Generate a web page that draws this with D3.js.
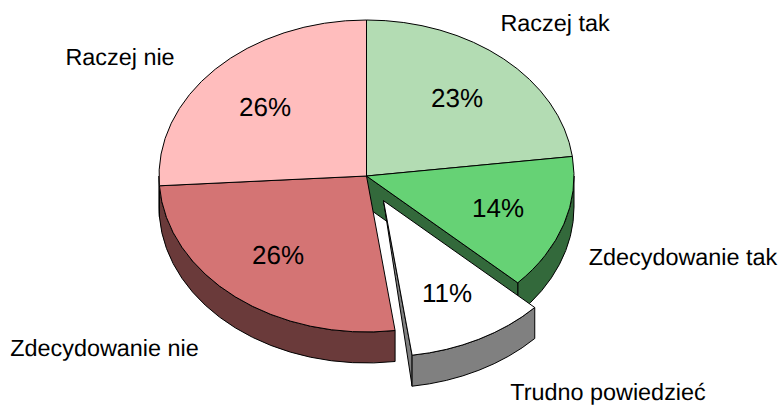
<!DOCTYPE html>
<html>
<head>
<meta charset="utf-8">
<script src="https://cdn.jsdelivr.net/npm/d3@7"></script>
<style>
  html, body { margin: 0; padding: 0; background: #fff; }
  svg { display: block; }
  text { font-family: "Liberation Sans", Arial, sans-serif; fill: #000; text-rendering: geometricPrecision; }
</style>
</head>
<body>
<svg width="779" height="405"></svg>
<script>
var categories = ["Raczej tak", "Zdecydowanie tak", "Trudno powiedzieć", "Zdecydowanie nie", "Raczej nie"];
var values = [23, 14, 10.8, 26.2, 26];
var colors = ["#b3dcb3", "#66d275", "#ffffff", "#d47474", "#ffbdbd"];
var exploded = ["Trudno powiedzieć"];

var svg = d3.select("svg");

var cx = 366.5, cy = 176,
    rx = 207.5, ry = 156,
    k = ry / rx,
    depth = 31,
    explode = 37;

// label placement, same order as categories
var nameXY = [[555, 31], [683, 265], [608, 400], [104.5, 356], [120, 65]];
var pctXY = [[457, 98], [498, 208], [447, 293], [278, 255], [265, 107]];

var color = d3.scaleOrdinal().domain(categories).range(colors);

function wallColor(name) {
  var c = d3.rgb(color(name));
  return d3.rgb(c.r / 2, c.g / 2, c.b / 2).formatHex();
}

var slices = d3.pie().sort(null).value(function(d, i) { return values[i]; })(categories);
var arc = d3.arc().innerRadius(0).outerRadius(rx);

// angle 0 is at the top and runs clockwise, as in d3.arc
function px(a, r) { return r * Math.sin(a); }
function py(a, r) { return -r * Math.cos(a); }

function offset(d) {
  if (exploded.indexOf(d.data) < 0) return [0, 0];
  var mid = (d.startAngle + d.endAngle) / 2;
  return [px(mid, explode), py(mid, explode)];
}

// rim of a slice, only the part that faces the viewer
function rimPath(d) {
  var a0 = Math.max(d.startAngle, Math.PI / 2),
      a1 = Math.min(d.endAngle, Math.PI * 1.5),
      h = depth / k;
  if (a1 <= a0) return null;
  var p = d3.path();
  p.moveTo(px(a0, rx), py(a0, rx));
  p.arc(0, 0, rx, a0 - Math.PI / 2, a1 - Math.PI / 2, false);
  p.lineTo(px(a1, rx), py(a1, rx) + h);
  p.arc(0, h, rx, a1 - Math.PI / 2, a0 - Math.PI / 2, true);
  p.closePath();
  return p.toString();
}

// cut side along the end angle of a slice
function cutPath(d) {
  var a = d.endAngle, h = depth / k;
  return "M0,0L" + px(a, rx) + "," + py(a, rx) +
    "L" + px(a, rx) + "," + (py(a, rx) + h) + "L0," + h + "Z";
}

// exploded slice shows its end-side wall only as a thin wedge
function wedgePath(d) {
  var a = d.endAngle, h = depth / k;
  return "M0,0L" + px(a, rx) + "," + py(a, rx) +
    "L" + px(a, rx) + "," + (py(a, rx) + h) + "Z";
}

var pie = svg.append("g")
    .attr("transform", "translate(" + cx + "," + cy + ") scale(1," + k + ")");

function shape(path, fill, d) {
  var o = offset(d);
  pie.append("path")
      .attr("d", path)
      .attr("transform", "translate(" + o[0] + "," + o[1] + ")")
      .attr("fill", fill)
      .attr("stroke", "#000")
      .attr("stroke-width", 1)
      .attr("stroke-linejoin", "round")
      .attr("vector-effect", "non-scaling-stroke");
}

var still = slices.filter(function(d) { return exploded.indexOf(d.data) < 0; }),
    moved = slices.filter(function(d) { return exploded.indexOf(d.data) >= 0; });

still.forEach(function(d) {
  var rim = rimPath(d);
  if (rim) shape(rim, wallColor(d.data), d);
});

// the slice in front of the gap shows its cut side
shape(cutPath(slices[1]), wallColor(slices[1].data), slices[1]);

moved.forEach(function(d) {
  shape(wedgePath(d), wallColor(d.data), d);
  shape(rimPath(d), wallColor(d.data), d);
  shape(arc(d), color(d.data), d);
});

still.forEach(function(d) {
  shape(arc(d), color(d.data), d);
});

svg.selectAll(".name")
  .data(categories)
  .enter().append("text")
    .attr("class", "name")
    .attr("x", function(d, i) { return nameXY[i][0]; })
    .attr("y", function(d, i) { return nameXY[i][1]; })
    .attr("text-anchor", "middle")
    .style("font-size", "23.4px")
    .text(function(d) { return d; });

svg.selectAll(".pct")
  .data(values)
  .enter().append("text")
    .attr("class", "pct")
    .attr("x", function(d, i) { return pctXY[i][0]; })
    .attr("y", function(d, i) { return pctXY[i][1]; })
    .attr("dy", "0.35em")
    .attr("text-anchor", "middle")
    .style("font-size", "26px")
    .text(function(d) { return Math.round(d) + "%"; });
</script>
</body>
</html>
